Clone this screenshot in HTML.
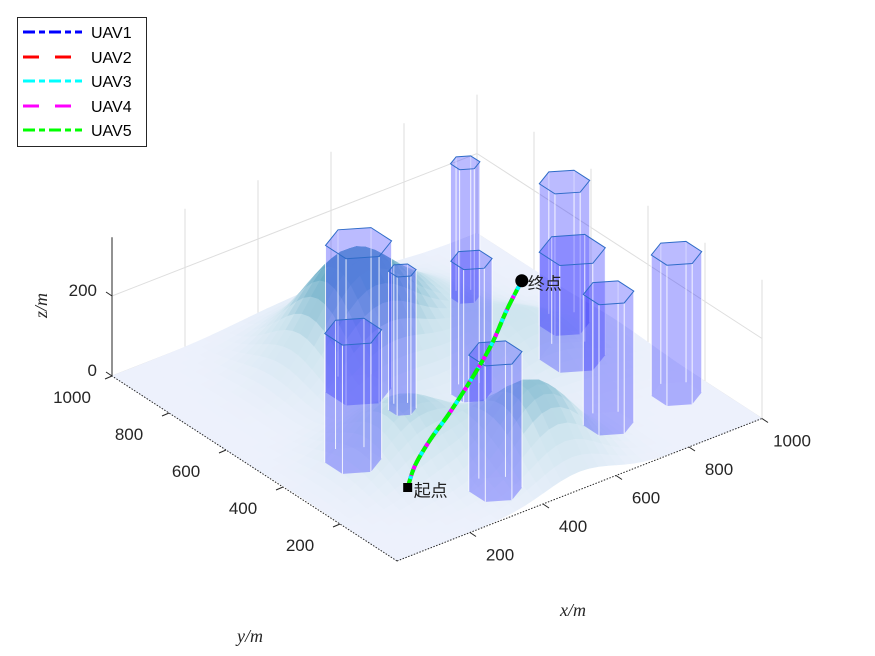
<!DOCTYPE html>
<html><head><meta charset="utf-8">
<style>
body{margin:0;background:#fff;}
svg{display:block;font-family:"Liberation Sans","Noto Sans CJK SC",sans-serif;}
.tick{font-size:17px;fill:#262626;}
.lab{font-family:"Liberation Serif",serif;font-style:italic;font-size:18px;fill:#262626;}
</style></head>
<body>
<svg id="chart" width="875" height="656" viewBox="0 0 875 656" xmlns="http://www.w3.org/2000/svg">
<g id="walls"></g>
<g id="terrain"></g>
<g id="axes"></g>
<g id="buildings"></g>
<g id="paths"></g>
<g id="marks"></g>
<text class="lab" x="560" y="616">x/m</text>
<text class="lab" x="237" y="642">y/m</text>
<text class="lab" transform="translate(47,318) rotate(-90)">z/m</text>
<g>
<rect x="17.5" y="17.5" width="129" height="129" fill="#fff" stroke="#262626" stroke-width="1"/>
<g><line x1="23" y1="32" x2="82" y2="32" stroke="#0000ff" stroke-width="3" stroke-dasharray="12,4,6,4"/><text x="91" y="38" font-size="16">UAV1</text></g>
<g><line x1="23" y1="57" x2="82" y2="57" stroke="#ff0000" stroke-width="3" stroke-dasharray="16,16"/><text x="91" y="63" font-size="16">UAV2</text></g>
<g><line x1="23" y1="81" x2="82" y2="81" stroke="#00ffff" stroke-width="3" stroke-dasharray="12,4,6,4"/><text x="91" y="87" font-size="16">UAV3</text></g>
<g><line x1="23" y1="106" x2="82" y2="106" stroke="#ff00ff" stroke-width="3" stroke-dasharray="16,16"/><text x="91" y="112" font-size="16">UAV4</text></g>
<g><line x1="23" y1="130" x2="82" y2="130" stroke="#00ff00" stroke-width="3" stroke-dasharray="12,4,6,4"/><text x="91" y="136" font-size="16">UAV5</text></g>
</g>
</svg>
<script>
// ---- data ----
const xTicks = [200, 400, 600, 800, 1000];
const yTicks = [200, 400, 600, 800, 1000];
const zTicks = [0, 200];
const zMax = 347;
// hills: centre x, centre y, height, spread
const hillX = [440, 280, 500, 740, 640];
const hillY = [720, 330, 160, 510, 800];
const hillH = [260, 150, 190, 110, 90];
const hillS = [115, 105, 95, 115, 115];
// buildings: centre x, centre y, radius, height
const bldX = [190, 357, 385, 409, 813, 571, 911, 837, 724, 918];
const bldY = [397, 112, 628, 505, 802, 470, 579, 457, 185, 195];
const bldR = [62, 58, 72, 30, 32, 45, 55, 72, 55, 55];
const bldH = [322, 340, 367, 347, 335, 332, 355, 268, 327, 352];
// path waypoints
const pathX = [212, 262, 335, 410, 517, 621, 711, 794];
const pathY = [234, 272, 312, 345, 401, 464, 526, 579];
const pathZ = [0, 20, 40, 60, 85, 105, 130, 150];
const uavNames = ['UAV1', 'UAV2', 'UAV3', 'UAV4', 'UAV5'];

const NS = 'http://www.w3.org/2000/svg';
function P(x, y, z) { return [397 + 0.365 * x - 0.285 * y, 561 - 0.1425 * x - 0.185 * y - 0.4 * z]; }
function mk(tag, parent, attrs) { const e = document.createElementNS(NS, tag); for (const k in attrs) e.setAttribute(k, attrs[k]); parent.appendChild(e); return e; }
function pts(a) { return a.map(p => p[0].toFixed(1) + ',' + p[1].toFixed(1)).join(' '); }

// walls
const walls = document.getElementById('walls');
const gridStyle = { stroke: '#dedede', 'stroke-width': 1, fill: 'none' };
[0].concat(xTicks).forEach(v => {
  const a = P(v, 1000, 0), b = P(v, 1000, zMax);
  const l = mk('line', walls, Object.assign({ x1: a[0], y1: a[1], x2: b[0], y2: b[1] }, gridStyle));
  
  
});
[0].concat(yTicks).forEach(v => {
  const a = P(1000, v, 0), b = P(1000, v, zMax);
  const l = mk('line', walls, Object.assign({ x1: a[0], y1: a[1], x2: b[0], y2: b[1] }, gridStyle));
  
  
});
zTicks.forEach(v => {
  const a = P(0, 1000, v), b = P(1000, 1000, v), c = P(1000, 0, v);
  const l = mk('polyline', walls, Object.assign({ points: pts([a, b, c]) }, gridStyle));
  
  
});

// terrain
function hz(x, y) { let z = 0; for (let i = 0; i < hillX.length; i++) { const dx = x - hillX[i], dy = y - hillY[i]; z += hillH[i] * Math.exp(-(dx * dx + dy * dy) / (2 * hillS[i] * hillS[i])); } return z; }
const terr = document.getElementById('terrain');
const N = 40, st = 1000 / N;
const cells = [];
for (let i = 0; i < N; i++) for (let j = 0; j < N; j++) cells.push([i, j]);
cells.sort((a, b) => (b[0] + b[1]) - (a[0] + a[1]));
function col(t) {
  t = Math.max(0, Math.min(1, t));
  const lo = [237, 241, 252], mid = [205, 228, 238], hi = [105, 172, 198];
  let c;
  if (t < 0.5) { const u = t / 0.5; c = lo.map((v, k) => v + (mid[k] - v) * u); }
  else { const u = (t - 0.5) / 0.5; c = mid.map((v, k) => v + (hi[k] - v) * u); }
  return 'rgb(' + c.map(Math.round).join(',') + ')';
}
cells.forEach(([i, j]) => {
  const x0 = i * st, y0 = j * st, x1 = x0 + st, y1 = y0 + st;
  const z00 = hz(x0, y0), z10 = hz(x1, y0), z11 = hz(x1, y1), z01 = hz(x0, y1);
  const zm = (z00 + z10 + z11 + z01) / 4;
  const c = col(zm / 240);
  const p = mk('polygon', terr, { points: pts([P(x0, y0, z00), P(x1, y0, z10), P(x1, y1, z11), P(x0, y1, z01)]), fill: c, stroke: c, 'stroke-width': 0.6 });
  
  
});

// axes
const axes = document.getElementById('axes');
const axStyle = { stroke: '#262626', 'stroke-width': 1, 'stroke-dasharray': '1.5,1.5', fill: 'none' };
let a0 = P(0, 0, 0), ax = P(1000, 0, 0), ay = P(0, 1000, 0), az = P(0, 1000, zMax);
let l = mk('line', axes, Object.assign({ x1: a0[0], y1: a0[1], x2: ax[0], y2: ax[1] }, axStyle));


l = mk('line', axes, Object.assign({ x1: a0[0], y1: a0[1], x2: ay[0], y2: ay[1] }, axStyle));


l = mk('line', axes, { x1: ay[0], y1: ay[1], x2: az[0], y2: az[1], stroke: '#262626', 'stroke-width': 1 });


xTicks.forEach(v => {
  const p = P(v, 0, 0);
  const t = mk('line', axes, { x1: p[0], y1: p[1], x2: p[0] + 6, y2: p[1] + 4, stroke: '#262626', 'stroke-width': 1 });
  
  
  const tx = mk('text', axes, { x: p[0] + 30, y: p[1] + 28, class: 'tick', 'text-anchor': 'middle' });
  tx.textContent = v;
  
  
});
yTicks.forEach(v => {
  const p = P(0, v, 0);
  const t = mk('line', axes, { x1: p[0], y1: p[1], x2: p[0] - 7, y2: p[1] + 3, stroke: '#262626', 'stroke-width': 1 });
  
  
  const tx = mk('text', axes, { x: p[0] - 40, y: p[1] + 27, class: 'tick', 'text-anchor': 'middle' });
  tx.textContent = v;
  
  
});
zTicks.forEach(v => {
  const p = P(0, 1000, v);
  const t = mk('line', axes, { x1: p[0], y1: p[1], x2: p[0] - 6, y2: p[1] - 4, stroke: '#262626', 'stroke-width': 1 });
  
  
  const tx = mk('text', axes, { x: p[0] - 15, y: p[1] + 0, class: 'tick', 'text-anchor': 'end' });
  tx.textContent = v;
  
  
});

// buildings
const bg = document.getElementById('buildings');
const order = bldX.map((_, i) => i).sort((a, b) => (bldX[b] + bldY[b]) - (bldX[a] + bldY[a]));
order.forEach(i => {
  const g = mk('g', bg, {});
  
  
  const bot = [], top = [];
  for (let k = 0; k < 6; k++) {
    const a = Math.PI / 6 + k * Math.PI / 3;
    const x = bldX[i] + bldR[i] * Math.cos(a), y = bldY[i] + bldR[i] * Math.sin(a);
    bot.push(P(x, y, 0)); top.push(P(x, y, bldH[i]));
  }
  const b = mk('polygon', g, { points: pts(bot), fill: 'rgba(60,60,255,0.2)', stroke: 'none' });
  
  
  for (let k = 0; k < 6; k++) {
    const n = (k + 1) % 6;
    const f = mk('polygon', g, { points: pts([bot[k], bot[n], top[n], top[k]]), fill: 'rgba(50,50,255,0.2)', stroke: 'none' });
    
    
  }
  for (let k = 0; k < 6; k++) {
    const e = mk('line', g, { x1: bot[k][0], y1: bot[k][1], x2: top[k][0], y2: top[k][1], stroke: 'rgba(255,255,255,0.85)', 'stroke-width': 1 });
    
    
  }
  const t = mk('polygon', g, { points: pts(top), fill: 'rgba(90,90,255,0.22)', stroke: '#2f6cc8', 'stroke-width': 1 });
  
  
});

// paths
const pg = document.getElementById('paths');
const proj = pathX.map((x, i) => P(x, pathY[i], pathZ[i]));
let d = 'M' + proj[0][0] + ',' + proj[0][1];
for (let i = 1; i < proj.length; i++) {
  const p0 = proj[i - 1], p1 = proj[i];
  const pm1 = proj[Math.max(0, i - 2)], p2 = proj[Math.min(proj.length - 1, i + 1)];
  const c1 = [p0[0] + (p1[0] - pm1[0]) / 6, p0[1] + (p1[1] - pm1[1]) / 6];
  const c2 = [p1[0] - (p2[0] - p0[0]) / 6, p1[1] - (p2[1] - p0[1]) / 6];
  d += ' C' + c1.join(',') + ' ' + c2.join(',') + ' ' + p1.join(',');
}
const uavCol = ['#0000ff', '#ff0000', '#00ffff', '#ff00ff', '#00ff00'];
const uavDash = ['12,4,6,4', '16,16', '12,4,6,4', '16,16', '12,4,6,4'];
const uavOff = [0, 6, 9, 20, 3];
uavNames.forEach((n, k) => {
  const p = mk('path', pg, { d: d, fill: 'none', stroke: uavCol[k], 'stroke-width': 4, 'stroke-dasharray': uavDash[k], 'stroke-dashoffset': uavOff[k] });
  
  
});

// markers
const mg = document.getElementById('marks');
const s = proj[0], e = proj[proj.length - 1];
let m = mk('rect', mg, { x: s[0] - 4.5, y: s[1] - 4.5, width: 9, height: 9, fill: '#000' });


m = mk('text', mg, { x: s[0] + 6, y: s[1] + 9, 'font-size': 17, fill: '#222' });
m.textContent = '起点';


m = mk('circle', mg, { cx: e[0], cy: e[1], r: 6.5, fill: '#000' });


m = mk('text', mg, { x: e[0] + 6, y: e[1] + 9, 'font-size': 17, fill: '#222' });
m.textContent = '终点';


</script>
</body></html>
